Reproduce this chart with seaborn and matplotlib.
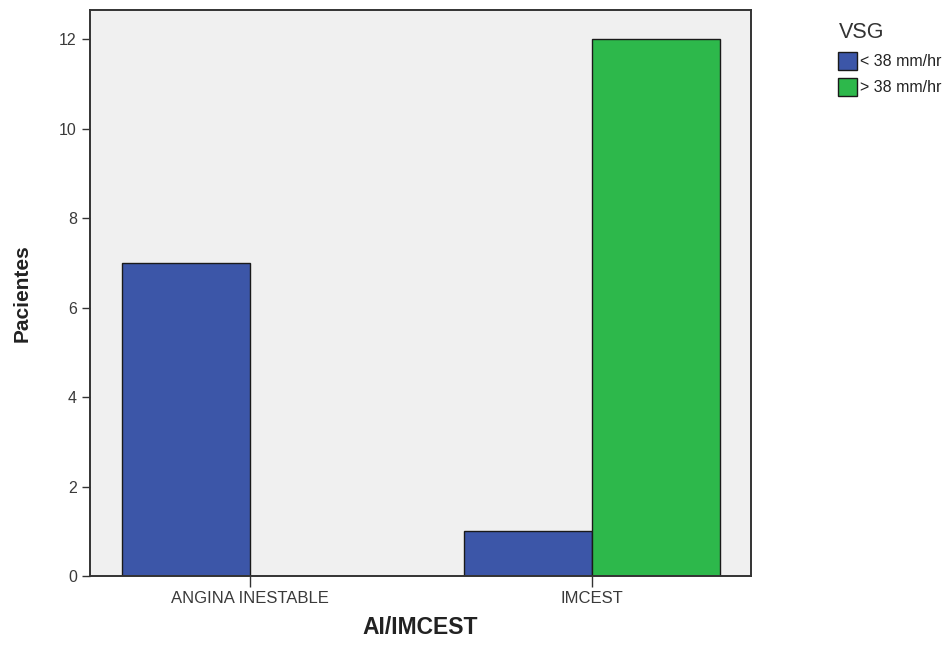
import matplotlib
matplotlib.use("Agg")
import matplotlib.pyplot as plt
from matplotlib.patches import Rectangle
import seaborn as sns
import pandas as pd

categories = ["ANGINA INESTABLE", "IMCEST"]
vsg_groups = ["< 38 mm/hr", "> 38 mm/hr"]
counts_low = [7, 1]
counts_high = [0, 12]
y_ticks = [0, 2, 4, 6, 8, 10, 12]

df = pd.DataFrame({
    "AI/IMCEST": categories * 2,
    "VSG": [vsg_groups[0]] * 2 + [vsg_groups[1]] * 2,
    "Pacientes": counts_low + counts_high,
})

sns.set_style("white")
plt.rcParams["font.family"] = ["Liberation Sans", "DejaVu Sans"]

W, H = 953, 645
fig = plt.figure(figsize=(W / 100, H / 100), dpi=100)
ax = fig.add_axes([90 / W, 69 / H, 661 / W, 566 / H])
ax.set_facecolor("#f0f0f0")

palette = {vsg_groups[0]: "#3c56a8", vsg_groups[1]: "#2db84b"}
sns.barplot(data=df, x="AI/IMCEST", y="Pacientes", hue="VSG",
            order=categories, hue_order=vsg_groups, palette=palette,
            width=0.75, gap=0, edgecolor="#1a1a1a", linewidth=1.0,
            saturation=1, ax=ax, legend=False)

ax.set_xlim(-0.468, 1.465)
ax.set_ylim(0, 12.65)
ax.set_yticks(y_ticks)
ax.set_yticklabels([str(t) for t in y_ticks])

for side in ["left", "right", "top", "bottom"]:
    ax.spines[side].set_visible(True)
    ax.spines[side].set_color("#333333")
    ax.spines[side].set_linewidth(1.4)

ax.tick_params(axis="both", which="both", direction="out", length=6,
               width=1.0, color="#333333", labelsize=11.5,
               labelcolor="#3a3a3a", left=True, bottom=True)
ax.tick_params(axis="x", length=8, pad=3, labelsize=12)

ax.set_xlabel("AI/IMCEST", fontsize=16.5, fontweight="bold", color="#222222",
              labelpad=7)
ax.set_ylabel("Pacientes", fontsize=15, fontweight="bold", color="#222222",
              labelpad=20)

# Legend drawn in figure pixel coordinates to the right of the plot
def px(x, y):
    return x / W, 1 - y / H

fig.text(*px(839, 33), "VSG", fontsize=15.5, color="#333333",
         ha="left", va="center")
for i, g in enumerate(vsg_groups):
    top = 52 + 26 * i
    x0, y0 = px(838, top + 18)
    fig.add_artist(Rectangle((x0, y0), 19 / W, 18 / H,
                             transform=fig.transFigure,
                             facecolor=palette[g], edgecolor="#1a1a1a",
                             linewidth=1.0))
    fig.text(*px(860, top + 10), g, fontsize=11.5, color="#222222",
             ha="left", va="center")

fig.savefig("out.png", dpi=100)
